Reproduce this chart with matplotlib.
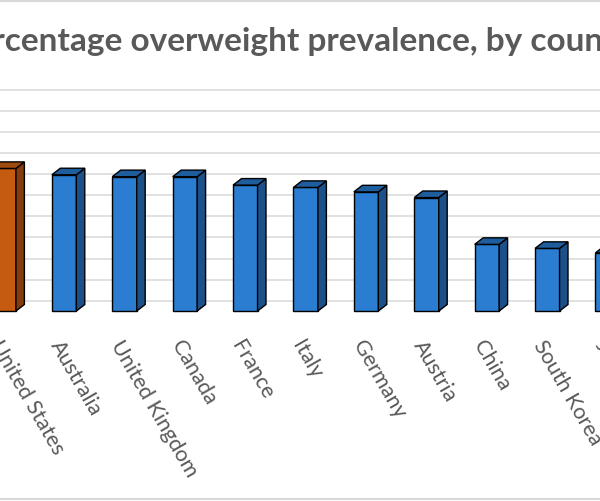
import numpy as np
import matplotlib.pyplot as plt
from matplotlib.patches import Polygon, Rectangle

# Datos (porcentaje de sobrepeso por país)
paises = ['United States', 'Australia', 'United Kingdom', 'Canada', 'France',
          'Italy', 'Germany', 'Austria', 'China', 'South Korea', 'Japan']
valores = [67.6, 64.6, 63.7, 63.7, 59.7, 58.6, 56.5, 53.8, 31.6, 29.7, 27.6]
resaltado = 'United States'

# Colores (cara frontal, lateral, superior)
naranja = ('#C55A11', '#843C0C', '#A04B0E')
azul = ('#2A7DD0', '#1B5088', '#1F5E9E')

ancho = 0.405     # ancho de barra
prof_x = 0.14     # profundidad 3D en x
prof_y = 3.1      # profundidad 3D en y
caida = 4.9       # el frente de la barra baja respecto a la pared

plt.rcParams['font.family'] = ['Lato', 'DejaVu Sans']

fig = plt.figure(figsize=(6, 5.02), dpi=100)
ax = fig.add_axes([-0.2, 0.3402, 1.4, 0.4958])

x = np.arange(len(paises))
colores_f = [naranja[0] if p == resaltado else azul[0] for p in paises]
ax.bar(x, valores, width=ancho, bottom=-caida, color=colores_f,
       edgecolor='black', linewidth=1.0, zorder=3)

# caras lateral y superior
for xi, v, p in zip(x, valores, paises):
    c = naranja if p == resaltado else azul
    x0, x1 = xi - ancho / 2, xi + ancho / 2
    y0, y1 = -caida, v - caida
    lado = Polygon([(x1, y0), (x1 + prof_x, y0 + prof_y), (x1 + prof_x, y1 + prof_y), (x1, y1)],
                   closed=True, facecolor=c[1], edgecolor='black', linewidth=1.0, zorder=3)
    tapa = Polygon([(x0, y1), (x0 + prof_x, y1 + prof_y), (x1 + prof_x, y1 + prof_y), (x1, y1)],
                   closed=True, facecolor=c[2], edgecolor='black', linewidth=1.0, zorder=3)
    ax.add_patch(lado)
    ax.add_patch(tapa)

ax.set_xlim(-2.048, 11.859)
ax.set_ylim(-14, 104)
ax.set_yticks(np.arange(0, 101, 10))
ax.yaxis.grid(True, color='#D9D9D9', linewidth=1.1, zorder=0)
ax.set_axisbelow(True)
ax.tick_params(left=False, bottom=False, labelleft=False, pad=1)
ax.set_xticks(x)
ax.set_xticklabels(paises, rotation=-60, ha='left', va='top', rotation_mode='anchor',
                   fontsize=15.5, color='#595959')
for s in ax.spines.values():
    s.set_visible(False)

fig.text(0.5, 1 - 42 / 502, 'Percentage overweight prevalence, by country',
         ha='center', va='center', fontsize=24, fontweight='bold', color='#595959')

# borde del área del gráfico
fig.patches.append(Rectangle((-0.1, 0.0035), 1.2, 0.993, transform=fig.transFigure,
                             fill=False, edgecolor='#D9D9D9', linewidth=1.5))

plt.savefig('out.png', dpi=100)
